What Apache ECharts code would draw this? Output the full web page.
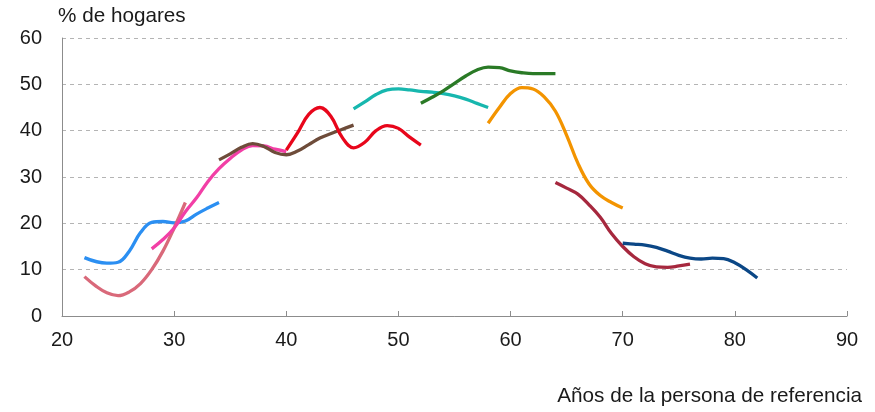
<!DOCTYPE html>
<html><head><meta charset="utf-8">
<script src="https://cdn.jsdelivr.net/npm/echarts@6/dist/echarts.min.js"></script>
<style>html,body{margin:0;padding:0;background:#fff}#c{width:875px;height:412px}</style>
</head><body><div id="c"></div>
<script>
const xTicks = [20, 30, 40, 50, 60, 70, 80, 90];
const yTicks = [0, 10, 20, 30, 40, 50, 60];

const blueX = [22, 24, 25, 26, 27, 28, 29, 30, 31, 32, 33, 34];
const blueY = [12.6, 11.4, 11.6, 14, 18, 20.2, 20.4, 20.1, 20.5, 22, 23.3, 24.5];

const salmonX = [22, 23, 24, 25, 26, 27, 28, 29, 30, 31];
const salmonY = [8.5, 6.5, 5, 4.4, 5.2, 7, 10, 14, 19, 24.5];

const pinkX = [28, 29, 30, 31, 32, 33, 34, 35, 36, 37, 38, 39, 40];
const pinkY = [14.5, 16.5, 19, 22.5, 25.5, 29, 31.8, 34, 35.8, 36.8, 36.7, 36, 35.5];

const brownX = [34, 35, 36, 37, 38, 39, 40, 41, 42, 43, 44, 45, 46];
const brownY = [33.7, 35, 36.4, 37.2, 36.6, 35.3, 34.8, 35.6, 37, 38.4, 39.4, 40.3, 41.2];

const redX = [40, 41, 42, 43, 44, 45, 46, 47, 48, 49, 50, 51, 52];
const redY = [35.8, 39.5, 43.5, 45, 43, 38.5, 36.3, 37.5, 40, 41.1, 40.5, 38.6, 36.9];

const tealX = [46, 47, 48, 49, 50, 51, 52, 53, 54, 55, 56, 57, 58];
const tealY = [44.7, 46.2, 47.8, 48.8, 49, 48.8, 48.5, 48.3, 48.0, 47.5, 46.8, 45.9, 45];

const greenX = [52, 53, 54, 55, 56, 57, 58, 59, 60, 61, 62, 63, 64];
const greenY = [45.9, 47.2, 48.6, 50.2, 51.8, 53.1, 53.7, 53.6, 52.9, 52.5, 52.3, 52.3, 52.3];

const orangeX = [58, 59, 60, 61, 62, 63, 64, 65, 66, 67, 68, 69, 70];
const orangeY = [41.6, 45, 48, 49.3, 49, 47.3, 44.2, 39, 33, 28.5, 26, 24.5, 23.3];

const maroonX = [64, 65, 66, 67, 68, 69, 70, 71, 72, 73, 74, 75, 76];
const maroonY = [28.8, 27.6, 26.3, 24, 21.3, 17.8, 15, 12.8, 11.3, 10.6, 10.5, 10.8, 11.2];

const navyX = [70, 71, 72, 73, 74, 75, 76, 77, 78, 79, 80, 81, 82];
const navyY = [15.7, 15.5, 15.3, 14.8, 14, 13.1, 12.5, 12.3, 12.5, 12.4, 11.5, 10, 8.2];

const seriesDefs = [
  ['blue', blueX, blueY, '#2b8ff2'],
  ['salmon', salmonX, salmonY, '#d9697a'],
  ['pink', pinkX, pinkY, '#f23fa6'],
  ['brown', brownX, brownY, '#6e4c3a'],
  ['red', redX, redY, '#e8061b'],
  ['teal', tealX, tealY, '#17b7ae'],
  ['green', greenX, greenY, '#2a7a26'],
  ['orange', orangeX, orangeY, '#f39400'],
  ['maroon', maroonX, maroonY, '#a6283e'],
  ['navy', navyX, navyY, '#0b4786']
];

const font = '"Liberation Sans", Arial, sans-serif';
const chart = echarts.init(document.getElementById('c'), null, {renderer: 'canvas'});
chart.setOption({
  animation: false,
  grid: {left: 62, right: 28, top: 38, bottom: 96, containLabel: false},
  xAxis: {
    type: 'value', min: xTicks[0], max: xTicks[xTicks.length - 1], interval: 10,
    axisLine: {show: true, lineStyle: {color: '#8c8c8c', width: 1}},
    axisTick: {show: true, inside: true, length: 5, lineStyle: {color: '#8c8c8c'}},
    axisLabel: {color: '#1a1a1a', fontSize: 20, fontFamily: font, margin: 14},
    splitLine: {show: false}
  },
  yAxis: {
    type: 'value', min: yTicks[0], max: yTicks[yTicks.length - 1], interval: 10,
    axisLine: {show: true, lineStyle: {color: '#8c8c8c', width: 1}},
    axisTick: {show: false},
    axisLabel: {color: '#1a1a1a', fontSize: 20, fontFamily: font, margin: 20},
    splitLine: {show: true, lineStyle: {color: '#b4b4b4', type: [4, 4], width: 1}}
  },
  graphic: [
    {type: 'text', left: 58, top: 6, style: {text: '% de hogares', fontSize: 20.7, fontFamily: font, fill: '#1a1a1a'}},
    {type: 'text', right: 13, top: 386, style: {text: 'Años de la persona de referencia', fontSize: 20.7, fontFamily: font, fill: '#1a1a1a'}}
  ],
  series: seriesDefs.map(([name, xs, ys, color]) => ({
    name, type: 'line', smooth: 0.4, showSymbol: false, symbol: 'none',
    lineStyle: {color, width: 3.3}, itemStyle: {color},
    data: xs.map((x, i) => [x, ys[i]])
  }))
});
</script></body></html>
